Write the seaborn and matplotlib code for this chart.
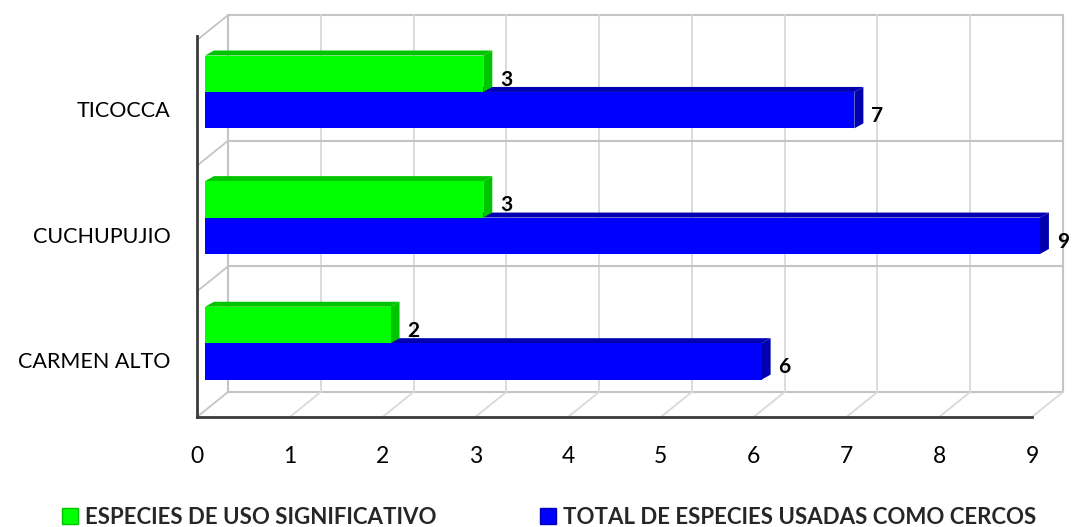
import matplotlib
matplotlib.use("Agg")
import matplotlib.pyplot as plt
from matplotlib.patches import Polygon, Patch
from matplotlib.transforms import offset_copy, ScaledTranslation
import pandas as pd
import seaborn as sns

# ---- data ----
categories = ["TICOCCA", "CUCHUPUJIO", "CARMEN ALTO"]
series_names = ["ESPECIES DE USO SIGNIFICATIVO", "TOTAL DE ESPECIES USADAS COMO CERCOS"]
significativo = [3, 3, 2]
total = [7, 9, 6]
x_ticks = [0, 1, 2, 3, 4, 5, 6, 7, 8, 9]

front_colors = ["#00ff00", "#0000ff"]
side_colors = ["#00c400", "#0000b0"]

sns.set_style("white")
plt.rcParams["font.family"] = ["Lato", "DejaVu Sans"]

df = pd.DataFrame({
    "Comunidad": categories * 2,
    "Serie": [series_names[0]] * 3 + [series_names[1]] * 3,
    "Valor": significativo + total,
})

W, H = 1075, 527
fig = plt.figure(figsize=(W / 100, H / 100), dpi=100)
ax = fig.add_axes([197 / W, 1 - 417 / H, (1063 - 197) / W, (417 - 15) / H])
ax.patch.set_alpha(0)

sns.barplot(data=df, y="Comunidad", x="Valor", hue="Serie", orient="h",
            palette=front_colors, saturation=1, width=0.58, ax=ax,
            legend=False, errorbar=None, order=categories,
            hue_order=series_names, zorder=5)
bars = list(ax.patches)

xmax = max(x_ticks)
ax.set_xlim(0, 9.335)
ax.set_ylim(2.5, -0.7)
fig.canvas.draw()

# pixel -> data scale factors
p0 = ax.transData.transform((0, 0))
p1 = ax.transData.transform((1, 1))
sx = p1[0] - p0[0]
sy = p0[1] - p1[1]  # pixels per category unit (y inverted)
DX, DY = 31 / sx, -25 / sy  # box depth in data units

grid_c = "#d9d9d9"
frame_c = "#c4c4c4"
y_top, y_bot = -0.5, 2.5

# back wall
ax.add_patch(Polygon([(DX, y_top + DY), (xmax + DX, y_top + DY),
                      (xmax + DX, y_bot + DY), (DX, y_bot + DY)],
                     closed=True, fc="white", ec=frame_c, lw=1.5, zorder=0,
                     clip_on=False))
for v in x_ticks[1:-1]:
    ax.plot([v + DX, v + DX], [y_top + DY, y_bot + DY], color=grid_c, lw=1.3,
            zorder=1, clip_on=False)
for yb in [0.5, 1.5]:
    ax.plot([DX, xmax + DX], [yb + DY, yb + DY], color=frame_c, lw=1.5,
            zorder=1, clip_on=False)
    ax.plot([0, DX], [yb, yb + DY], color=frame_c, lw=1.3, zorder=1,
            clip_on=False)
# left wall and floor edges
ax.plot([0, DX], [y_top, y_top + DY], color=frame_c, lw=1.3, zorder=1, clip_on=False)
ax.plot([0, DX], [y_bot, y_bot + DY], color=frame_c, lw=1.3, zorder=1, clip_on=False)
for v in x_ticks[1:]:
    ax.plot([v, v + DX], [y_bot, y_bot + DY], color=grid_c, lw=1.3,
            zorder=1, clip_on=False)

# pseudo-3D bar faces
fx, fy = 8 / sx, -11 / sy      # front-face shift
dx, dy = 9 / sx, -5 / sy       # bar depth
n = len(categories)
for i, bar in enumerate(bars):
    s = i // n
    x0, y0 = bar.get_x(), bar.get_y()
    w, h = bar.get_width(), bar.get_height()
    bar.set_transform(offset_copy(ax.transData, fig, x=8, y=11, units="dots"))
    bar.set_edgecolor("none")
    z = 3 if s == 1 else 6
    bar.set_zorder(z + 0.5)
    X0, X1 = x0 + fx, x0 + w + fx
    Y0, Y1 = y0 + fy, y0 + h + fy
    top = [(X0, Y0), (X1, Y0), (X1 + dx, Y0 + dy), (X0 + dx, Y0 + dy)]
    side = [(X1, Y0), (X1 + dx, Y0 + dy), (X1 + dx, Y1 + dy), (X1, Y1)]
    ax.add_patch(Polygon(top, closed=True, fc=side_colors[s], ec="none",
                         zorder=z, clip_on=False))
    ax.add_patch(Polygon(side, closed=True, fc=side_colors[s], ec="none",
                         zorder=z, clip_on=False))
    ax.text(x0 + w, y0 + h / 2, f"{int(round(w))}",
            transform=offset_copy(ax.transData, fig, x=25, y=5, units="dots"),
            ha="left", va="center", fontsize=15, fontweight="bold",
            color="black", zorder=10, clip_on=False)

# axes
ax.set_xticks(x_ticks)
ax.set_xticklabels([str(t) for t in x_ticks])
ax.set_xlabel("")
ax.set_ylabel("")
ax.tick_params(axis="x", length=0, pad=21, labelsize=16.5, colors="black")
ax.tick_params(axis="y", length=0, pad=19, labelsize=15.5, colors="black")
shift = ScaledTranslation(0, -6 / 100, fig.dpi_scale_trans)
for lab in ax.get_yticklabels():
    lab.set_transform(lab.get_transform() + shift)
for side_name in ["top", "right"]:
    ax.spines[side_name].set_visible(False)
for side_name in ["left", "bottom"]:
    ax.spines[side_name].set_color("#3a3a3a")
    ax.spines[side_name].set_linewidth(2)
ax.spines["bottom"].set_bounds(0, xmax)
ax.spines["left"].set_bounds(y_top - 0.03, y_bot)
ax.grid(False)

# legend: one entry per series, placed side by side under the axis
legend_x = [62, 540]
for k in range(2):
    leg = fig.legend([Patch(fc=front_colors[k], ec=side_colors[k])],
                     [series_names[k]], loc="center left",
                     bbox_to_anchor=(legend_x[k] / W, 1 - 517 / H),
                     frameon=False, borderpad=0, borderaxespad=0,
                     handlelength=0.72, handleheight=0.72, handletextpad=0.3,
                     prop={"weight": "bold", "size": 16})

fig.savefig("out.png", dpi=100, facecolor="white")
